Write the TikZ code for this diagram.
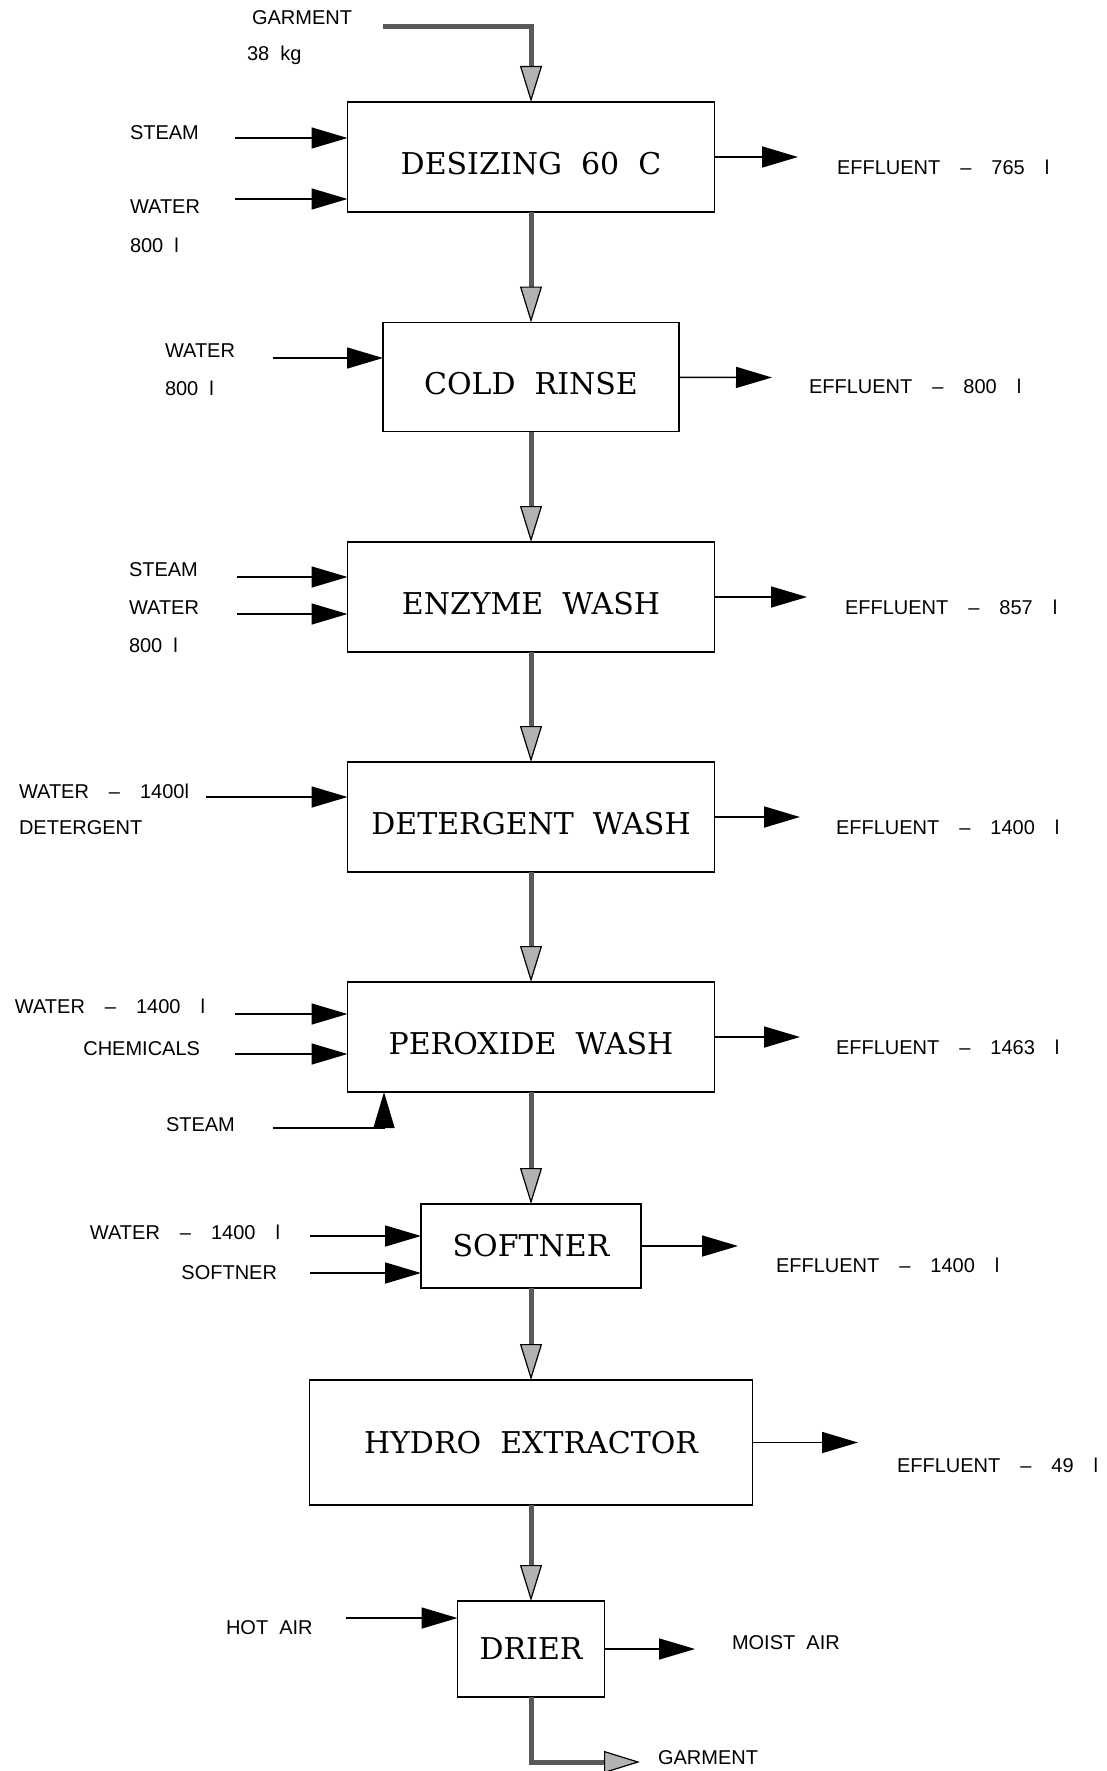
\documentclass[tikz,border=0pt]{standalone}
\usepackage{fontspec}
\usepackage{tikz}
\usetikzlibrary{arrows.meta}
\newfontfamily\labelfont[Ligatures=TeX]{Liberation Sans}
\newfontfamily\unitfont{DejaVu Serif}

\begin{document}
\begin{tikzpicture}[x=0.5pt,y=-0.5pt,->,>={Triangle[length=18pt,width=10.5pt]},
                    thick,node distance=110pt]
\tikzstyle{every node}=[inner sep=0pt,outer sep=0pt]
\tikzstyle{unit}=[draw,line width=0.8pt,font=\unitfont\fontsize{15}{18}\selectfont,
                  minimum width=183.5pt,minimum height=55pt]
\tikzstyle{low}=[text height=17.5pt,text depth=0pt]
\tikzstyle{tag}=[font=\labelfont\fontsize{10}{12}\selectfont]
\tikzstyle{flow}=[draw=gray!70!black,line width=2.5pt,
                  -{Triangle[length=18pt,width=11pt,fill=gray!60,color=black,line width'=0.6pt]}]
\useasboundingbox (0,0) rectangle (1107,1771);

% process steps
\node [unit,low] (des) at (531,157) {DESIZING~~60~~C};
\node [unit,low,minimum width=148pt,minimum height=54.5pt] [below of=des] (rinse) {COLD~~RINSE};
\node [unit,low] [below of=rinse] (enz) {ENZYME~~WASH};
\node [unit,low] [below of=enz] (det) {DETERGENT~~WASH};
\node [unit,low] [below of=det] (per) {PEROXIDE~~WASH};
\node [unit,minimum width=110pt,minimum height=42pt] [below of=per,yshift=5.5pt] (soft) {SOFTNER};
\node [unit,minimum width=221.5pt,minimum height=62.5pt] [below of=soft,yshift=11.75pt] (hyd) {HYDRO~~EXTRACTOR};
\node [unit,minimum width=73.5pt,minimum height=48pt] [below of=hyd,yshift=6.75pt] (dri) {DRIER};

% garment in and out
\node [tag,anchor=west] (garin) at (252,18) {GARMENT};
\node [tag,anchor=west] (kg) at (247,55) {38~~kg};
\coordinate (g1) at (383,27);
\node [tag,anchor=west] (garout) at (658,1758) {GARMENT};
\coordinate (g2) at (640,1762);

% inputs
\node [tag,anchor=west] (st1) at (130,133) {STEAM};
\node [tag,anchor=west] (wa1) at (130,207) {WATER};
\node [tag,anchor=west] (vo1) at (130,245) {800~~l};
\coordinate (a1) at (235,138);
\coordinate (a2) at (235,199);

\node [tag,anchor=west] (wa2) at (165,351) {WATER};
\node [tag,anchor=west] (vo2) at (165,388) {800~~l};
\coordinate (a3) at (273,358);

\node [tag,anchor=west] (st3) at (129,570) {STEAM};
\node [tag,anchor=west] (wa3) at (129,608) {WATER};
\node [tag,anchor=west] (vo3) at (129,645) {800~~l};
\coordinate (a4) at (237,577);
\coordinate (a5) at (237,614);

\node [tag,anchor=west] (wa4) at (19,791) {WATER\quad--\quad1400l};
\node [tag,anchor=west] (dg4) at (19,828) {DETERGENT};
\coordinate (a6) at (206,797);

\node [tag,anchor=east] (wa5) at (205,1006) {WATER\quad--\quad1400\quad l};
\node [tag,anchor=east] (ch5) at (200,1049) {CHEMICALS};
\node [tag,anchor=west] (st5) at (166,1125) {STEAM};
\coordinate (a7) at (235,1014);
\coordinate (a8) at (235,1054);
\coordinate (a9) at (273,1128);

\node [tag,anchor=east] (wa6) at (280,1232) {WATER\quad--\quad1400\quad l};
\node [tag,anchor=east] (sf6) at (277,1273) {SOFTNER};
\coordinate (a10) at (310,1236);
\coordinate (a11) at (310,1273);

\node [tag,anchor=west] (air8) at (226,1628) {HOT~~AIR};
\coordinate (a12) at (346,1618);

% outputs
\node [tag,anchor=west] (ef1) at (837,167) {EFFLUENT\quad--\quad765\quad l};
\node [tag,anchor=west] (ef2) at (809,386) {EFFLUENT\quad--\quad800\quad l};
\node [tag,anchor=west] (ef3) at (845,607) {EFFLUENT\quad--\quad857\quad l};
\node [tag,anchor=west] (ef4) at (836,827) {EFFLUENT\quad--\quad1400\quad l};
\node [tag,anchor=west] (ef5) at (836,1047) {EFFLUENT\quad--\quad1463\quad l};
\node [tag,anchor=west] (ef6) at (776,1265) {EFFLUENT\quad--\quad1400\quad l};
\node [tag,anchor=west] (ef7) at (897,1465) {EFFLUENT\quad--\quad49\quad l};
\node [tag,anchor=west] (ma8) at (732,1643) {MOIST~~AIR};
\coordinate (o1) at (798,157);
\coordinate (o2) at (772,377.5);
\coordinate (o3) at (807,597);
\coordinate (o4) at (800,817);
\coordinate (o5) at (800,1037);
\coordinate (o6) at (738,1246);
\coordinate (o7) at (858,1442.5);
\coordinate (o8) at (695,1649);

% garment flow
\draw [flow] (g1) -| (des.north);
\path (des) edge [flow] (rinse)
      (rinse) edge [flow] (enz)
      (enz) edge [flow] (det)
      (det) edge [flow] (per)
      (per) edge [flow] (soft)
      (soft) edge [flow] (hyd)
      (hyd) edge [flow] (dri);
\draw [flow] (dri.south) |- (g2);

\draw (a1) -- (a1 -| des.west);
\draw (a2) -- (a2 -| des.west);
\draw (a3) -- (a3 -| rinse.west);
\draw (a4) -- (a4 -| enz.west);
\draw (a5) -- (a5 -| enz.west);
\draw (a6) -- (a6 -| det.west);
\draw (a7) -- (a7 -| per.west);
\draw (a8) -- (a8 -| per.west);
\draw (a9) -| ([xshift=-73.5pt]per.south);
\draw (a10) -- (a10 -| soft.west);
\draw (a11) -- (a11 -| soft.west);
\draw (a12) -- (a12 -| dri.west);

\path (des) edge (o1)
      (rinse) edge (o2)
      (enz) edge (o3)
      (det) edge (o4)
      (per) edge (o5)
      (soft) edge (o6)
      (hyd) edge (o7)
      (dri) edge (o8);
\end{tikzpicture}
\end{document}
